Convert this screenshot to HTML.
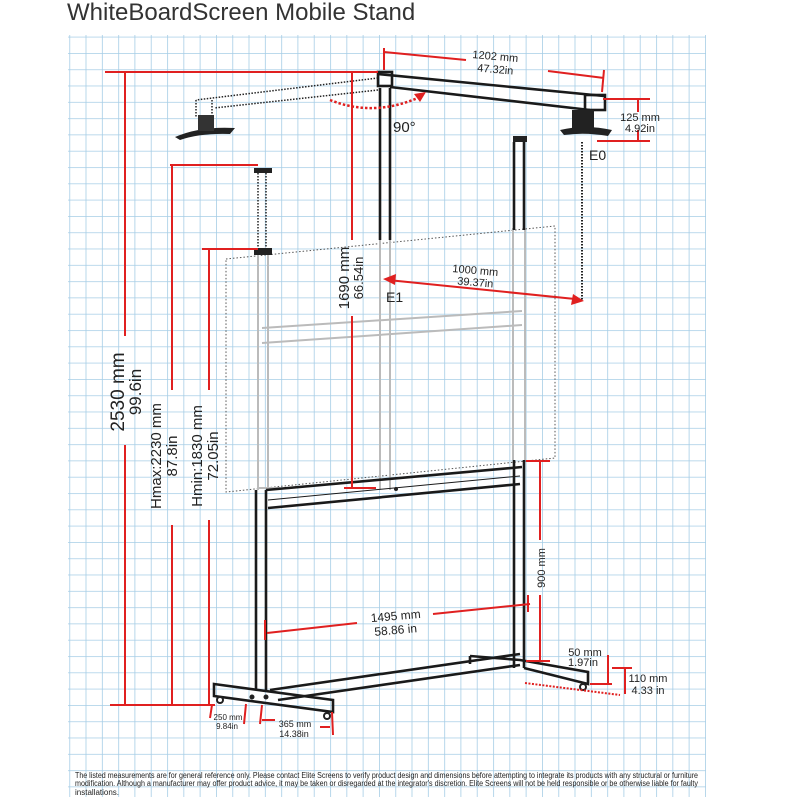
<!DOCTYPE html>
<html><head><meta charset="utf-8"><style>
html,body{margin:0;padding:0;background:#fff}
svg{display:block}
text{font-family:"Liberation Sans",sans-serif}
</style></head><body>
<svg width="800" height="800" viewBox="0 0 800 800" xmlns="http://www.w3.org/2000/svg">
<defs>
<pattern id="g" x="69.3" y="36.7" width="16.3" height="16.3" patternUnits="userSpaceOnUse">
<path d="M0 0H16.3M0 0V16.3" stroke="#a6cde6" stroke-width="1.6" fill="none"/>
</pattern>
</defs>
<rect x="68" y="35" width="638" height="762" fill="url(#g)"/>
<text x="67" y="20" font-size="24" fill="#333">WhiteBoardScreen Mobile Stand</text>

<path d="M226 259 L555 226 L555 458 L226 492 Z" fill="none" stroke="#555" stroke-width="1" stroke-dasharray="1.5,2"/>
<g stroke="#bbb" stroke-width="2" fill="none">
<path d="M258 255 V490 M268 255 V490"/>
<path d="M380 240 V490 M390 240 V490"/>
<path d="M513 228 V460 M525 228 V460"/>
<path d="M262 328 L522 311 M262 343 L522 325"/>
<path d="M258 488 L280 488"/>
</g>
<g stroke="#222" stroke-width="1.5" fill="none" stroke-dasharray="1.5,1.5">
<path d="M258 170 V252 M266 170 V252"/>
<path d="M378 78 L196 100 M378 90 L214 108"/>
<path d="M196 100 V118 M212 100 V118"/>
<path d="M582 142 V300" stroke-width="2"/>
</g>
<path d="M175 137 Q200 126 235 128 L230 134 Q200 133 180 140 Z" fill="#222"/>
<rect x="198" y="115" width="16" height="16" fill="#333"/>
<rect x="254" y="168" width="18" height="5" fill="#222"/>
<rect x="254" y="248" width="18" height="7" fill="#222"/>

<g stroke="#1a1a1a" stroke-width="2.6" fill="none">
<path d="M380 88 V240 M390 88 V240"/>
<path d="M378 74 L604 96 M390 87 L590 110"/>
<rect x="378" y="72" width="14" height="14"/>
<rect x="585" y="95" width="20" height="15"/>
<path d="M514 142 V230 M524 142 V230"/>
<path d="M514 460 V668 M524 460 V668"/>
<path d="M256 490 V690 M266 490 V690"/>
<path d="M266 490 L522 467 M268 508 L520 484"/>
<path d="M268 500 L520 476" stroke-width="1"/>
<path d="M214 684 L333 700 L333 712 L214 696 Z"/>
<path d="M270 690 L520 654 M278 700 L520 665"/>
<path d="M470 656 L470 664 M470 656 L520 660 L588 672 L588 684 L524 668"/>
</g>
<rect x="513" y="136" width="14" height="6" fill="#222"/>
<g fill="#222">
<rect x="572" y="110" width="22" height="18"/>
<path d="M560 130 Q585 124 612 130 L608 136 Q585 132 564 135 Z"/>
<circle cx="220" cy="700" r="4"/><circle cx="327" cy="716" r="4"/><circle cx="583" cy="687" r="4"/>
<circle cx="252" cy="697" r="2.5"/><circle cx="266" cy="697" r="2.5"/>
<circle cx="396" cy="489" r="2"/>
</g>
<g fill="#fff"><circle cx="220" cy="700" r="2"/><circle cx="327" cy="716" r="2"/><circle cx="583" cy="687" r="2"/></g>

<g stroke="#e02020" stroke-width="2" fill="none">
<path d="M105 72 H378"/>
<path d="M125 72 V336 M125 445 V705"/>
<path d="M110 705 H215"/>
<path d="M170 165 H258 M172 165 V390 M172 525 V705"/>
<path d="M202 249 H258 M209 249 V390 M209 520 V705"/>
<path d="M352 72 V240 M352 316 V488 M344 488 H376"/>
<path d="M384 52 L466 60 M548 71 L604 78 M384 48 V70 M604 70 L602 92"/>
<path d="M603 99 H650 M597 141 H650 M638 99 V112 M638 130 V141"/>
<path d="M388 280 L575 299"/>
<path d="M526 461 H550 M540 461 V540 M540 595 V661 M526 661 H550"/>
<path d="M267 633 L357 623 M433 614 L530 604 M265 620 V640 M528 595 V612"/>
<path d="M608 655 V684 M590 684 H612"/>
<path d="M625 668 V694 M612 668 H632"/>
<path d="M212 705 L210 718 M246 704 L244 724 M262 705 L260 724 M262 720 H275 M320 727 H330 M332 712 L333 735"/>
</g>
<path d="M525 683 L620 695" stroke="#e02020" stroke-width="2" stroke-dasharray="2,1.5"/>
<path d="M330 100 Q375 118 422 96" stroke="#e02020" stroke-width="2.5" fill="none" stroke-dasharray="2.5,2"/>
<path d="M426 92 L414 94 L420 102 Z" fill="#e02020"/>
<path d="M383 279 L396 274 L395 285 Z" fill="#e02020"/>
<path d="M584 301 L571 305 L573 294 Z" fill="#e02020"/>

<g fill="#222">
<text x="393" y="132" font-size="15">90°</text>
<text transform="translate(495 60) rotate(5)" text-anchor="middle" font-size="11">1202 mm</text>
<text transform="translate(495 73) rotate(5)" text-anchor="middle" font-size="11">47.32in</text>
<text x="640" y="121" text-anchor="middle" font-size="11">125 mm</text>
<text x="640" y="132" text-anchor="middle" font-size="11">4.92in</text>
<text x="589" y="160" font-size="14">E0</text>
<text transform="translate(475 274) rotate(5)" text-anchor="middle" font-size="11">1000 mm</text>
<text transform="translate(475 286) rotate(5)" text-anchor="middle" font-size="11">39.37in</text>
<text x="386" y="302" font-size="14">E1</text>
<text transform="translate(349 278) rotate(-90)" text-anchor="middle" font-size="15">1690 mm</text>
<text transform="translate(363 278) rotate(-90)" text-anchor="middle" font-size="13">66.54in</text>
<text transform="translate(124 392) rotate(-90)" text-anchor="middle" font-size="19">2530 mm</text>
<text transform="translate(141 392) rotate(-90)" text-anchor="middle" font-size="17">99.6in</text>
<text transform="translate(161 456) rotate(-90)" text-anchor="middle" font-size="15">Hmax:2230 mm</text>
<text transform="translate(177 456) rotate(-90)" text-anchor="middle" font-size="15">87.8in</text>
<text transform="translate(202 456) rotate(-90)" text-anchor="middle" font-size="15">Hmin:1830 mm</text>
<text transform="translate(218 456) rotate(-90)" text-anchor="middle" font-size="15">72.05in</text>
<text transform="translate(545 568) rotate(-90)" text-anchor="middle" font-size="11">900 mm</text>
<text transform="translate(396 620) rotate(-5)" text-anchor="middle" font-size="12">1495 mm</text>
<text transform="translate(396 634) rotate(-5)" text-anchor="middle" font-size="12">58.86 in</text>
<text x="585" y="656" text-anchor="middle" font-size="11">50 mm</text>
<text x="583" y="666" text-anchor="middle" font-size="11">1.97in</text>
<text x="648" y="682" text-anchor="middle" font-size="11">110 mm</text>
<text x="648" y="694" text-anchor="middle" font-size="11">4.33 in</text>
<text x="228" y="720" text-anchor="middle" font-size="8">250 mm</text>
<text x="227" y="729" text-anchor="middle" font-size="8">9.84in</text>
<text x="295" y="727" text-anchor="middle" font-size="9">365 mm</text>
<text x="294" y="737" text-anchor="middle" font-size="9">14.38in</text>
</g>
<g fill="#222" font-size="8">
<text x="75" y="778" textLength="623" lengthAdjust="spacingAndGlyphs">The listed measurements are for general reference only. Please contact Elite Screens to verify product design and dimensions before attempting to integrate its products with any structural or furniture</text>
<text x="75" y="786" textLength="623" lengthAdjust="spacingAndGlyphs">modification. Although a manufacturer may offer product advice, it may be taken or disregarded at the integrator's discretion. Elite Screens will not be held responsible or be otherwise liable for faulty</text>
<text x="75" y="795">installations.</text>
</g>
</svg>
</body></html>
